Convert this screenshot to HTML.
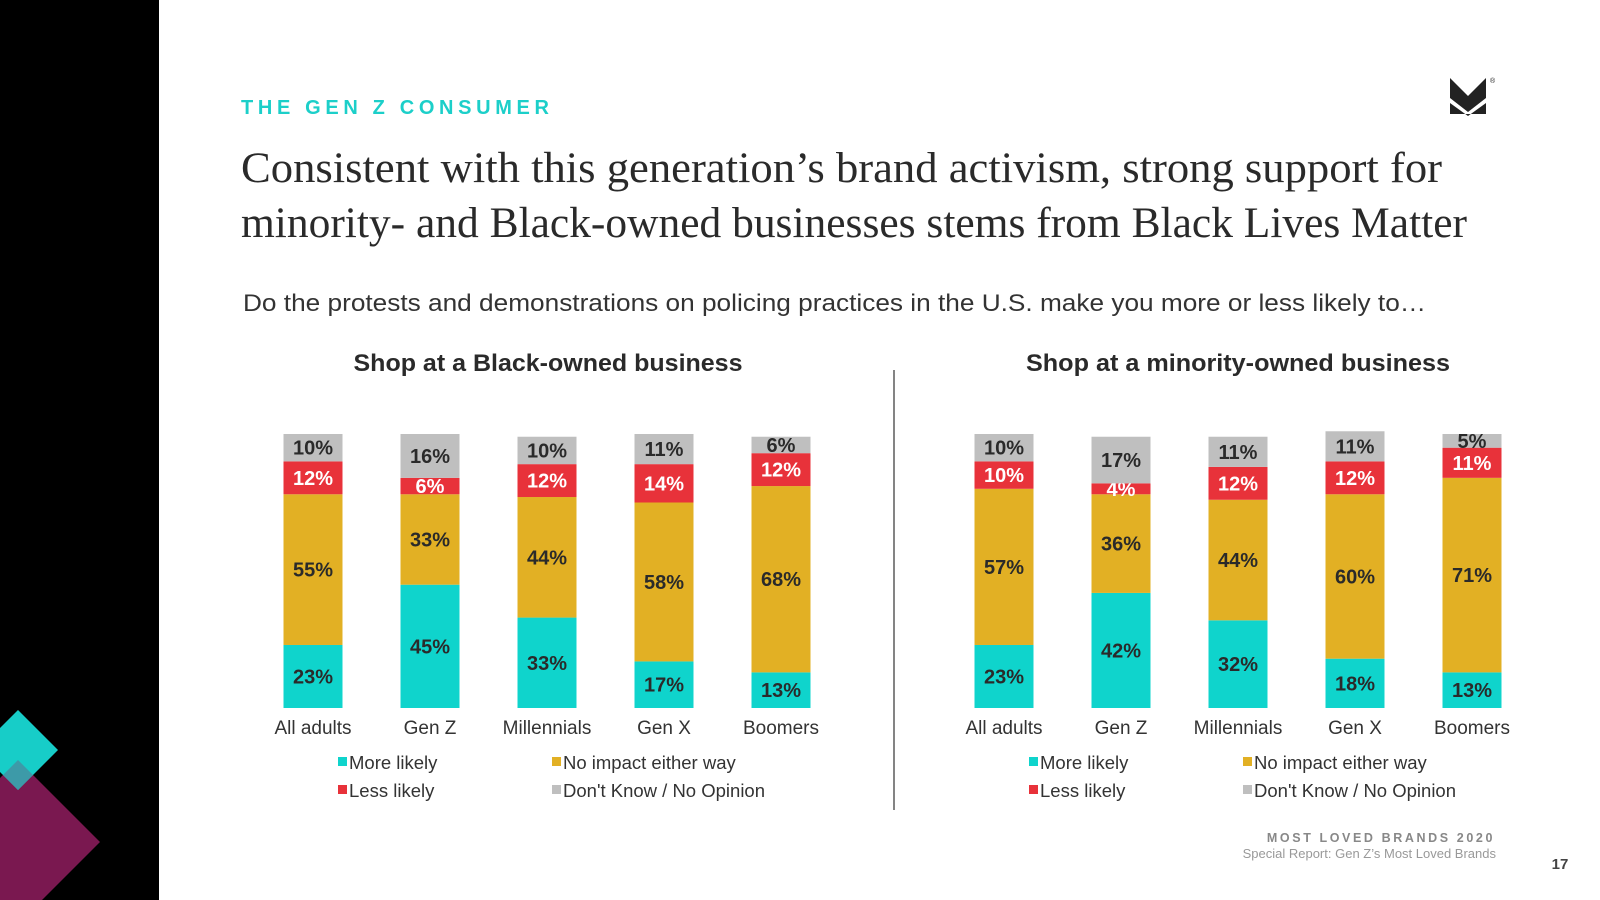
<!DOCTYPE html>
<html><head><meta charset="utf-8"><style>
html,body{margin:0;padding:0;background:#fff;}
svg{display:block;}
text{font-family:"Liberation Sans",sans-serif;}
</style></head><body>
<svg id="slide" width="1600" height="900" viewBox="0 0 1600 900" xmlns="http://www.w3.org/2000/svg">
  <rect x="0" y="0" width="1600" height="900" fill="#fff"/>
  <rect x="0" y="0" width="159" height="900" fill="#000"/>
  <polygon points="18,760 100,842 18,924 -64,842" fill="#7a1850"/>
  <polygon points="18,710 58,750 18,790 -22,750" fill="#17cdc8"/>
  <polygon points="18,760 33,775 18,790 3,775" fill="#3d9aa8"/>

  <text x="241" y="114" font-size="20" font-weight="bold" fill="#1ccfc9" textLength="308" lengthAdjust="spacing">THE GEN Z CONSUMER</text>
  <g>
    <polygon points="1450,78 1468,96 1486,78 1486,98 1468,112 1450,98" fill="#222"/>
    <polygon points="1450,103 1468,116 1486,103 1486,114 1450,114" fill="#222"/>
    <text x="1490" y="83" font-size="7" fill="#222">®</text>
  </g>
  <text x="241" y="182" style="font-family:'Liberation Serif',serif" font-size="43" fill="#2a2a2a" textLength="1201" lengthAdjust="spacingAndGlyphs">Consistent with this generation’s brand activism, strong support for</text>
  <text x="241" y="237" style="font-family:'Liberation Serif',serif" font-size="43" fill="#2a2a2a" textLength="1226" lengthAdjust="spacingAndGlyphs">minority- and Black-owned businesses stems from Black Lives Matter</text>
  <text x="243" y="311" font-size="24" fill="#333" textLength="1183" lengthAdjust="spacingAndGlyphs">Do the protests and demonstrations on policing practices in the U.S. make you more or less likely to…</text>

  <text x="548" y="371" font-size="24" font-weight="bold" fill="#2a2a2a" text-anchor="middle" textLength="389" lengthAdjust="spacingAndGlyphs">Shop at a Black-owned business</text>
  <text x="1238" y="371" font-size="24" font-weight="bold" fill="#2a2a2a" text-anchor="middle" textLength="424" lengthAdjust="spacingAndGlyphs">Shop at a minority-owned business</text>
  <line x1="894" y1="370" x2="894" y2="810" stroke="#333" stroke-width="1.2"/>
  <g id="charts"></g>

  <text x="1495" y="842" font-size="12.5" font-weight="bold" fill="#888" text-anchor="end" letter-spacing="2.6">MOST LOVED BRANDS 2020</text>
  <text x="1496" y="858" font-size="13" fill="#999" text-anchor="end">Special Report: Gen Z’s Most Loved Brands</text>
  <text x="1560" y="869" font-size="15" font-weight="bold" fill="#444" text-anchor="middle">17</text>
</svg>
<script>
const categories = ["All adults", "Gen Z", "Millennials", "Gen X", "Boomers"];
const seriesNames = ["More likely", "No impact either way", "Less likely", "Don't Know / No Opinion"];
const blackMore = [23, 45, 33, 17, 13];
const blackNoImpact = [55, 33, 44, 58, 68];
const blackLess = [12, 6, 12, 14, 12];
const blackDontKnow = [10, 16, 10, 11, 6];
const minorityMore = [23, 42, 32, 18, 13];
const minorityNoImpact = [57, 36, 44, 60, 71];
const minorityLess = [10, 4, 12, 12, 11];
const minorityDontKnow = [10, 17, 11, 11, 5];

const colors = ["#0fd4cc", "#e2b024", "#e8323a", "#bfbfbf"];
const textColors = ["#2a2a2a", "#2a2a2a", "#ffffff", "#2a2a2a"];
const NS = "http://www.w3.org/2000/svg";
const root = document.getElementById("charts");
const baseY = 708, pxPerPct = 2.74, barW = 59, step = 117;
function yScale(v){ return baseY - v * pxPerPct; }
function xCenter(x0, i){ return x0 + i * step; }
function mk(tag, attrs, parent){
  const el = document.createElementNS(NS, tag);
  for (const k in attrs) el.setAttribute(k, attrs[k]);
  parent.appendChild(el);
  return el;
}
function drawChart(prefix, x0, series){
  const g = mk("g", {}, root);
  
  
  categories.forEach((cat, i) => {
    const cx = xCenter(x0, i);
    let cum = 0;
    series.forEach((vals, s) => {
      const v = vals[i];
      const yTop = yScale(cum + v), yBot = yScale(cum);
      const r = mk("rect", {x: cx - barW/2, y: yTop, width: barW, height: yBot - yTop, fill: colors[s]}, g);
      
      
      const t = mk("text", {x: cx, y: (yTop + yBot)/2 + 7, "font-size": 20, "font-weight": "bold", fill: textColors[s], "text-anchor": "middle"}, g);
      
      
      t.textContent = v + "%";
      cum += v;
    });
    const l = mk("text", {x: cx, y: 734, "font-size": 19, fill: "#333", "text-anchor": "middle"}, g);
    
    
    l.textContent = cat;
  });
  const legendPos = [[25, 769], [239, 769], [25, 797], [239, 797]];
  seriesNames.forEach((name, s) => {
    const lg = mk("g", {}, g);
    
    
    const lx = x0 + legendPos[s][0], ly = legendPos[s][1];
    mk("rect", {x: lx, y: ly - 12, width: 9, height: 9, fill: colors[s]}, lg);
    const t = mk("text", {x: lx + 11, y: ly, "font-size": 18.5, fill: "#333"}, lg);
    t.textContent = name;
  });
}
drawChart("black-owned", 313, [blackMore, blackNoImpact, blackLess, blackDontKnow]);
drawChart("minority-owned", 1004, [minorityMore, minorityNoImpact, minorityLess, minorityDontKnow]);
</script>
</body></html>
